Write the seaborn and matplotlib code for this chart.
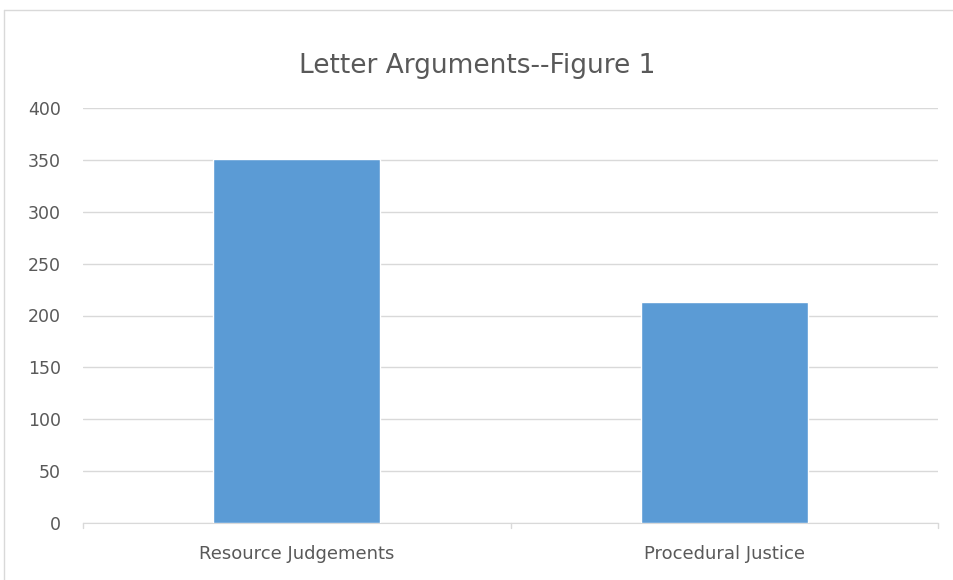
import seaborn as sns
import matplotlib.pyplot as plt
import pandas as pd
from matplotlib.lines import Line2D

categories = ['Resource Judgements', 'Procedural Justice']
counts = [351, 213]

df = pd.DataFrame({'category': categories, 'count': counts})

sns.set_style('white')
plt.rcParams['font.family'] = ['Liberation Sans Narrow', 'DejaVu Sans']

fig = plt.figure(figsize=(9.54, 5.80), dpi=100)
ax = fig.add_axes([83/954, 1-523/580, (938-83)/954, (523-108)/580])

sns.barplot(data=df, x='category', y='count', color='#5B9BD5', saturation=1,
            width=0.39, ax=ax, zorder=3)

ax.set_ylim(0, 400)
ax.set_yticks(range(0, 401, 50))
ax.yaxis.grid(True, color='#D9D9D9', linewidth=1, zorder=0)
ax.set_xlim(-0.5, 1.5)
ax.set_xlabel('')
ax.set_ylabel('')
for s in ['top', 'right', 'left']:
    ax.spines[s].set_visible(False)
ax.spines['bottom'].set_color('#D9D9D9')
ax.tick_params(axis='y', length=0, colors='#595959', labelsize=12.5, pad=16)
ax.tick_params(axis='x', length=0, colors='#595959', labelsize=13, pad=16)
# category separator ticks like Excel
for xv in [-0.5, 0.5, 1.5]:
    ax.plot([xv, xv], [0, -0.012], transform=ax.get_xaxis_transform(),
            color='#D9D9D9', lw=1, clip_on=False)

fig.text(0.5, 1-66/580, 'Letter Arguments--Figure 1', ha='center', va='center',
         fontsize=19, color='#595959')

# chart border
fig.add_artist(Line2D([4/954, 1], [1-10/580, 1-10/580], color='#D9D9D9', lw=1))
fig.add_artist(Line2D([4/954, 4/954], [0, 1-10/580], color='#D9D9D9', lw=1))

fig.savefig('out.png', dpi=100)
